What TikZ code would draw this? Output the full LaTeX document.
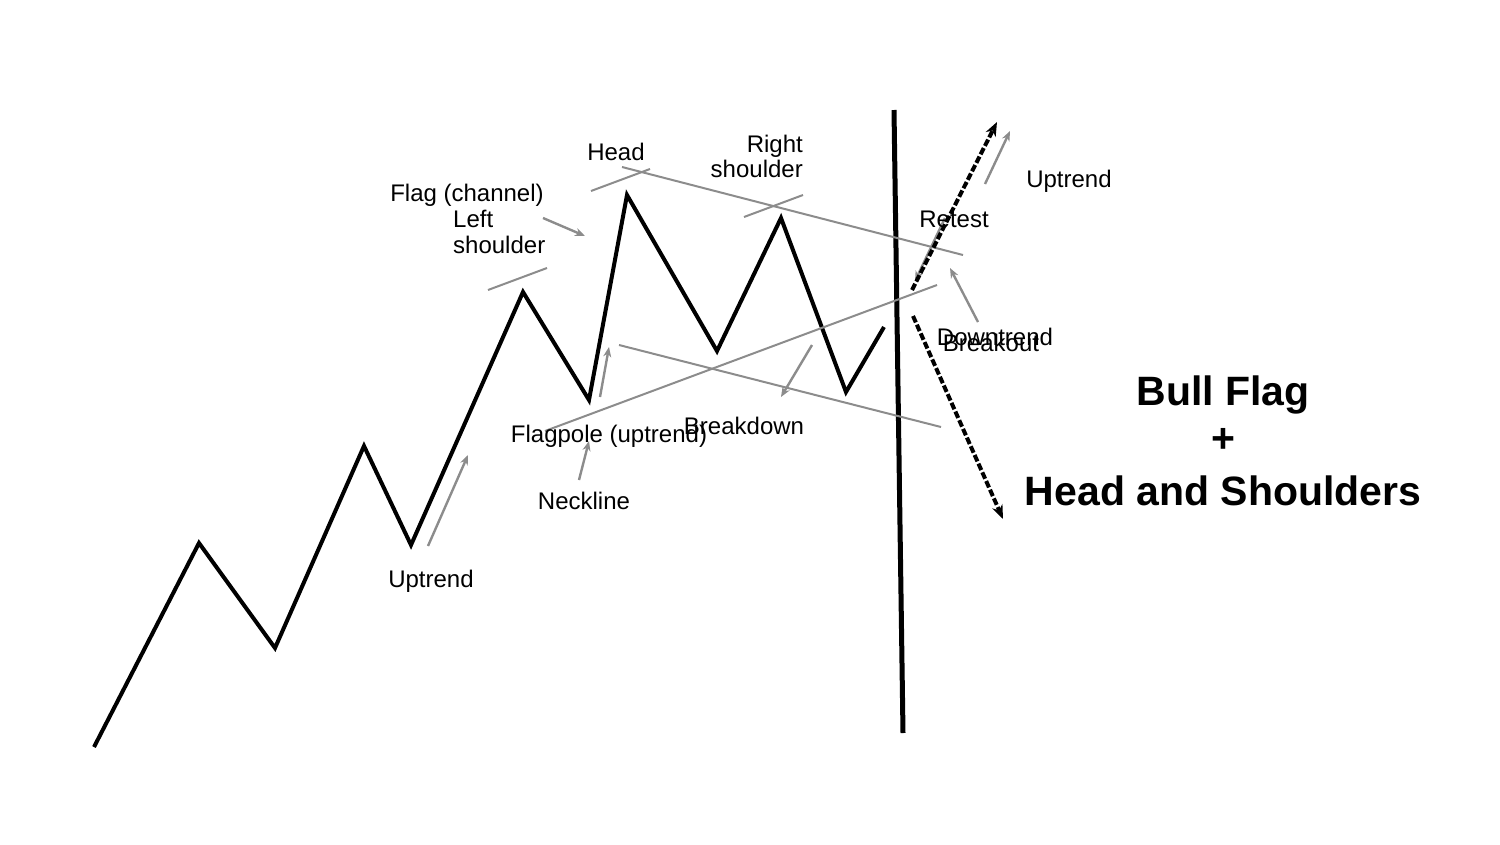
\documentclass[tikz,border=0pt]{standalone}
\usepackage{fontspec}
\setmainfont{Liberation Sans}
\usetikzlibrary{arrows.meta}
\begin{document}
\begin{tikzpicture}[x=1pt,y=-1pt,
  price/.style={line width=4pt,line join=miter,black},
  divider/.style={line width=5pt,black},
  guide/.style={line width=2pt,draw={rgb,255:red,140;green,140;blue,140}},
  garrow/.style={guide,line width=2.4pt,-{Stealth[length=10pt,width=8pt]}},
  darrow/.style={line width=4pt,dash pattern=on 7pt off 2.5pt,-{Stealth[length=14pt,width=11pt]}},
  lbl/.style={font=\fontsize{24}{28}\selectfont,anchor=base,inner sep=0pt},
  title/.style={font=\fontsize{41}{48}\selectfont\bfseries,anchor=base,inner sep=0pt}]
\useasboundingbox (0,0) rectangle (1500,844);
% zigzag points
\coordinate (p0) at (94,747);
\coordinate (p1) at (199,543);
\coordinate (p2) at (275,648);
\coordinate (p3) at (364,446);
\coordinate (p4) at (411,545);
\coordinate (p5) at (523,292);
\coordinate (p6) at (589,400);
\coordinate (p7) at (627,195);
\coordinate (p8) at (717,351);
\coordinate (p9) at (781,218);
\coordinate (p10) at (846,392);
\coordinate (p11) at (884,327);
\draw[price] (p0)--(p1)--(p2)--(p3)--(p4)--(p5)--(p6)--(p7)--(p8)--(p9)--(p10)--(p11);
% divider
\coordinate (v0) at (894,110);
\coordinate (v1) at (903,733);
\draw[divider] (v0)--(v1);
% guide lines
\coordinate (ls0) at (488,290); \coordinate (ls1) at (547,268);
\coordinate (hd0) at (591,191); \coordinate (hd1) at (650,169);
\coordinate (rs0) at (744,217); \coordinate (rs1) at (803,195);
\coordinate (up0) at (622,167); \coordinate (up1) at (963,255);
\coordinate (lo0) at (619,345); \coordinate (lo1) at (941,427);
\coordinate (nk0) at (545,431); \coordinate (nk1) at (937,285);
\draw[guide] (ls0)--(ls1);
\draw[guide] (hd0)--(hd1);
\draw[guide] (rs0)--(rs1);
\draw[guide] (up0)--(up1);
\draw[guide] (lo0)--(lo1);
\draw[guide] (nk0)--(nk1);
% gray arrows
\coordinate (a1s) at (428,546); \coordinate (a1e) at (468,455);
\coordinate (a2s) at (543,218); \coordinate (a2e) at (585,236);
\coordinate (a3s) at (600,397); \coordinate (a3e) at (609,347);
\coordinate (a4s) at (579,480); \coordinate (a4e) at (589,441);
\coordinate (a5s) at (812,345); \coordinate (a5e) at (781,397);
\coordinate (a6s) at (945,218); \coordinate (a6e) at (915,281);
\coordinate (a7s) at (978,322); \coordinate (a7e) at (950,268);
\coordinate (a8s) at (985,184); \coordinate (a8e) at (1010,131);
\draw[garrow] (a1s)--(a1e);
\draw[garrow] (a2s)--(a2e);
\draw[garrow] (a3s)--(a3e);
\draw[garrow] (a4s)--(a4e);
\draw[garrow] (a5s)--(a5e);
\draw[garrow] (a6s)--(a6e);
\draw[garrow] (a7s)--(a7e);
\draw[garrow] (a8s)--(a8e);
% dashed arrows
\coordinate (du0) at (912,290); \coordinate (du1) at (997,122);
\coordinate (dd0) at (913,316); \coordinate (dd1) at (1003,519);
\draw[darrow] (du0)--(du1);
\draw[darrow] (dd0)--(dd1);
% labels
\node[lbl] (head) at (616,160) {Head};
\node[lbl,anchor=base east] (rsA) at (803,152) {Right};
\node[lbl,anchor=base east] (rsB) at (803,177) {shoulder};
\node[lbl] (flag) at (467,201) {Flag (channel)};
\node[lbl,anchor=base west] (lsA) at (453,227) {Left};
\node[lbl,anchor=base west] (lsB) at (453,253) {shoulder};
\node[lbl] (pole) at (609,442) {Flagpole (uptrend)};
\node[lbl] (brkd) at (744,434) {Breakdown};
\node[lbl] (neck) at (584,509) {Neckline};
\node[lbl] (upl) at (431,587) {Uptrend};
\node[lbl] (retest) at (954,227) {Retest};
\node[lbl] (upr) at (1069,187) {Uptrend};
\node[lbl] (down) at (995,345) {Downtrend};
\node[lbl] (brko) at (991,351) {Breakout};
\node[title] (t1) at (1223,405) {Bull Flag};
\node[title] (t2) at (1223,452) {+};
\node[title] (t3) at (1223,505) {Head and Shoulders};
\end{tikzpicture}
\end{document}
